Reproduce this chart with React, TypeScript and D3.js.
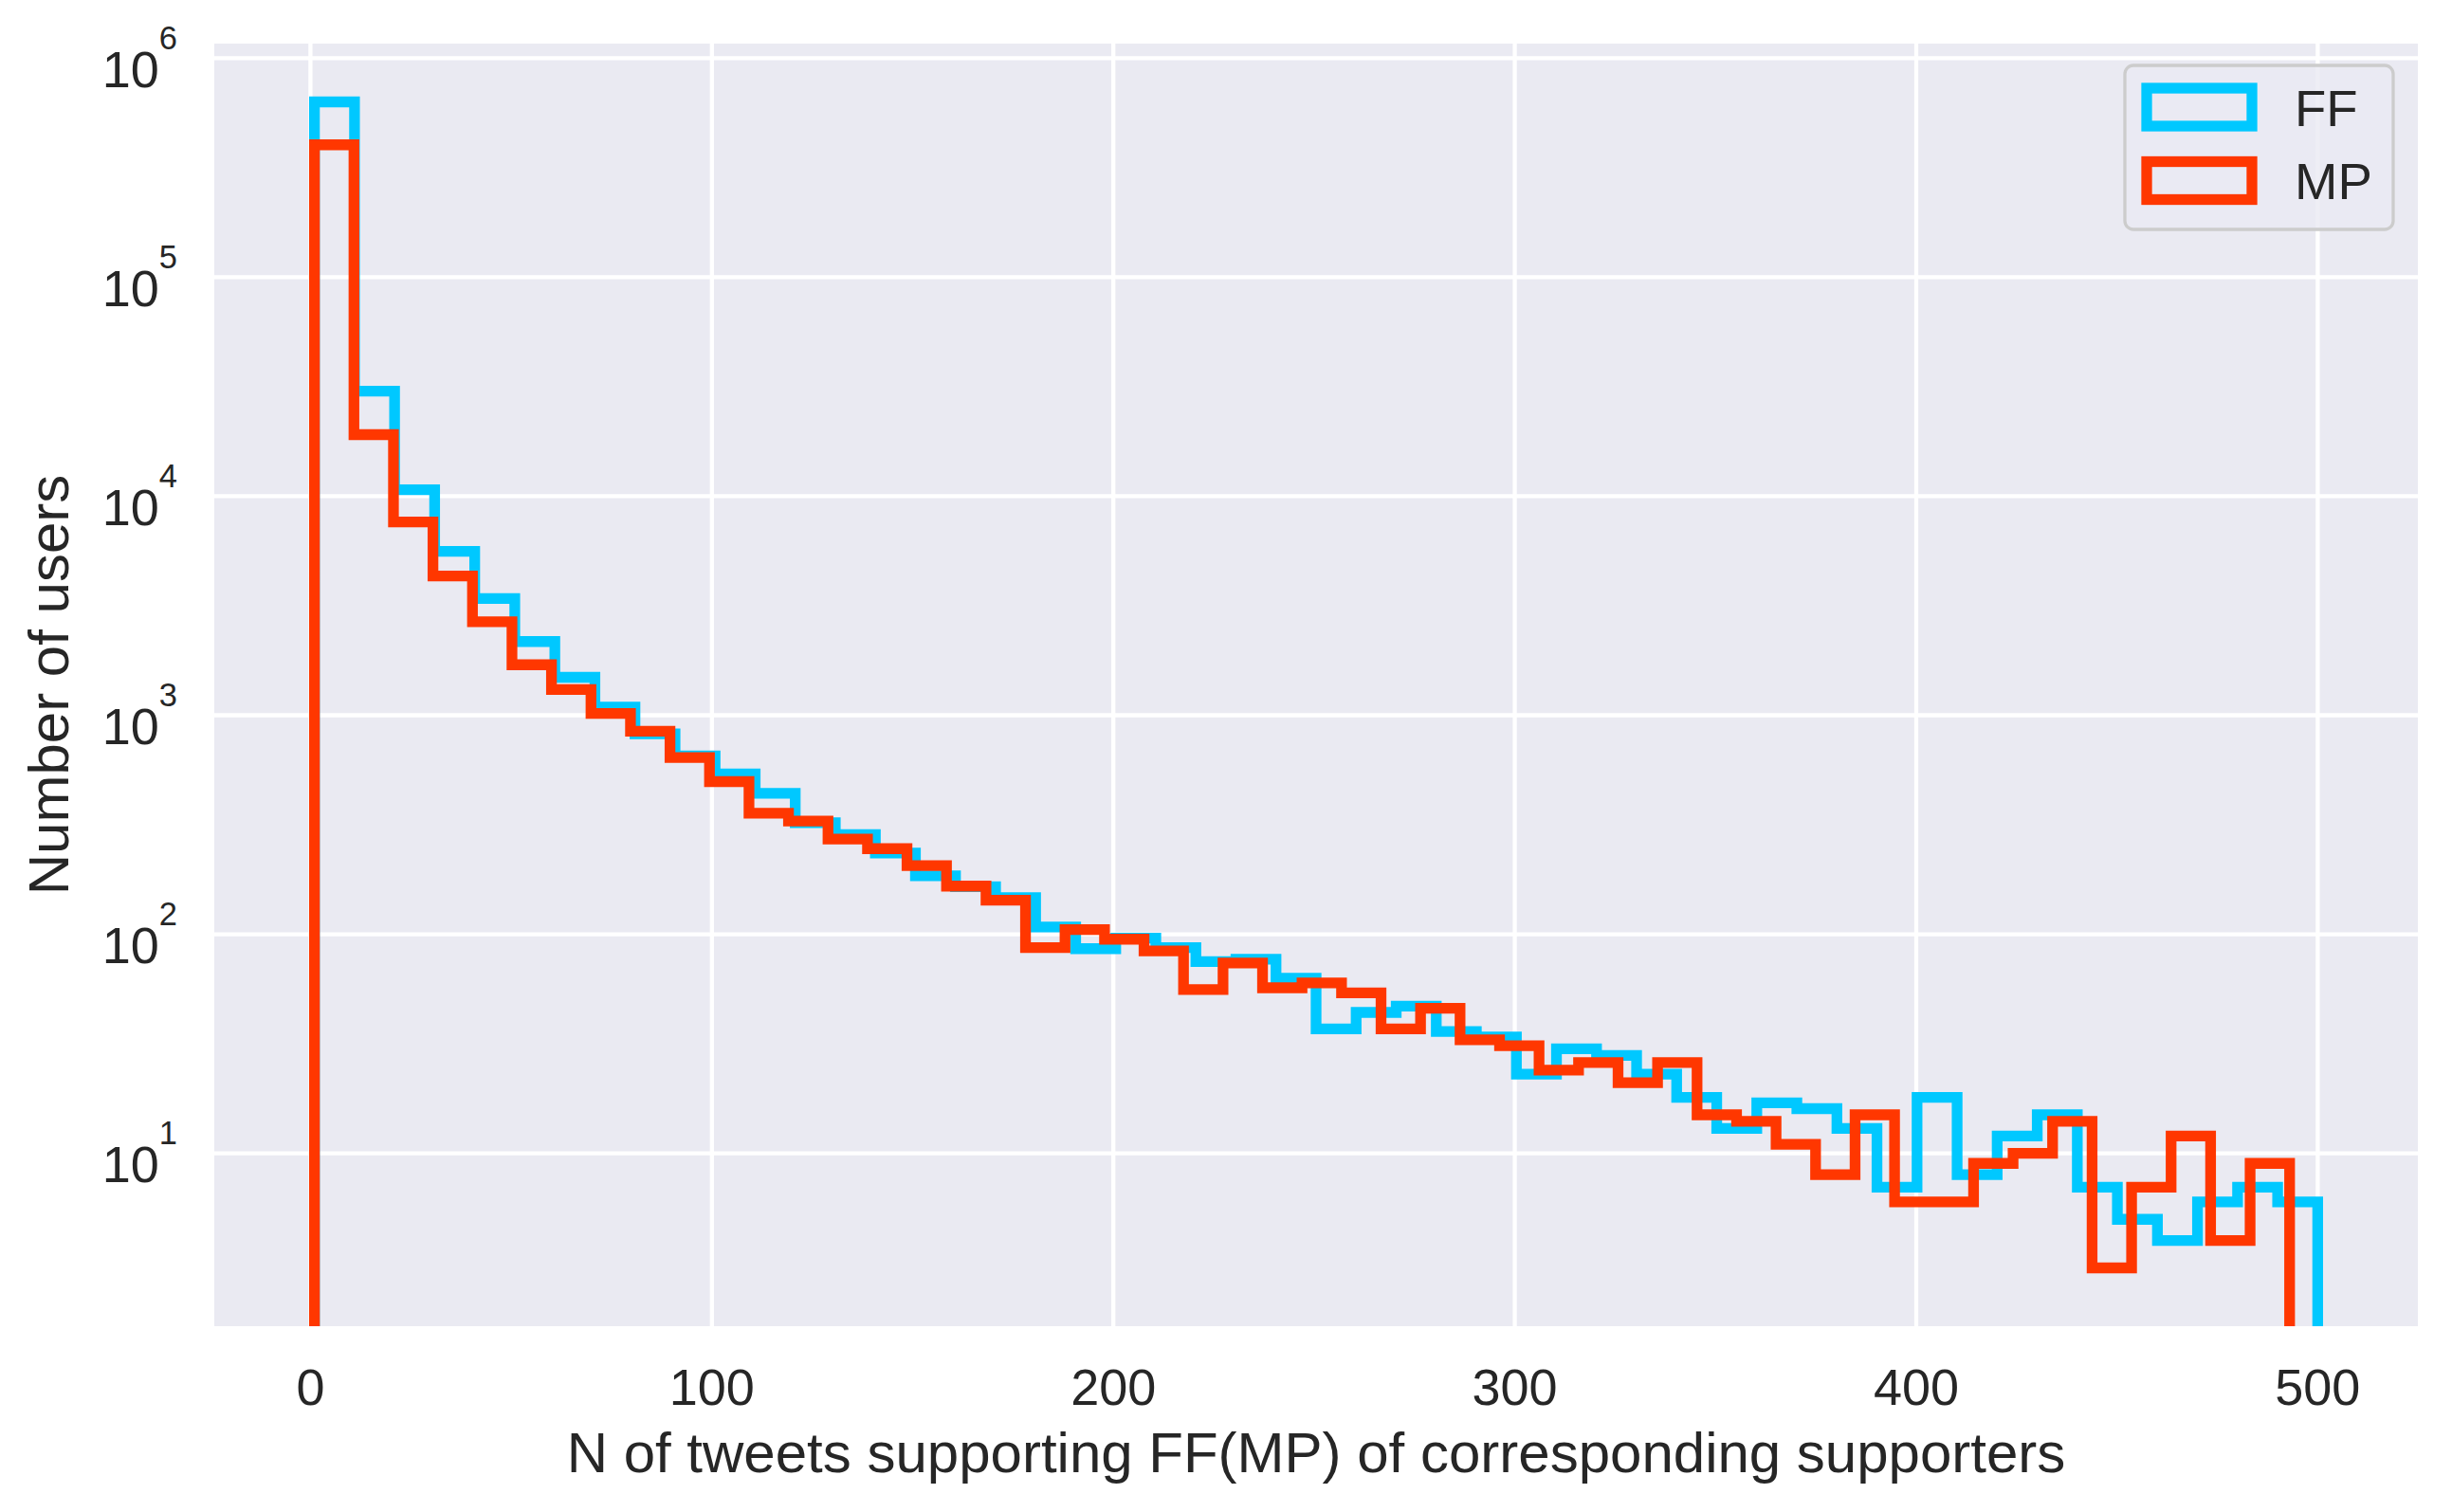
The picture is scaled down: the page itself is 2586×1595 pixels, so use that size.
import React from "react";
import * as d3 from "d3";

// ---- data ----
const ffCounts = [
  631000, 30200, 10700, 5600, 3410, 2170, 1490, 1090, 822, 652,
  540, 440, 323, 285, 235, 185, 165, 147, 108, 86,
  96, 87, 75, 77, 63, 37, 44, 47, 36, 34,
  23, 30, 28, 23, 18, 13, 17, 16, 13, 7,
  18, 8, 12, 15, 7, 5, 4, 6, 7, 6,
];
const mpCounts = [
  402000, 19100, 7620, 4320, 2670, 1700, 1310, 1020, 845, 641,
  498, 357, 329, 272, 246, 206, 166, 143, 87, 105,
  95, 84, 56, 74, 57, 60, 54, 37, 46, 33,
  31, 24, 26, 21, 26, 15, 14, 11, 8, 15,
  6, 6, 9, 10, 14, 3, 7, 12, 4, 9,
];
const ffRange = [1, 500];
const mpRange = [1, 493];
const seriesNames = ["FF", "MP"];
const seriesColors = ["#00c8ff", "#ff3700"];
const xTicks = [0, 100, 200, 300, 400, 500];
const yTickExps = [1, 2, 3, 4, 5, 6];
const xLabel = "N of tweets supporting FF(MP) of corresponding supporters";
const yLabel = "Number of users";

const W = 2586;
const H = 1595;
const plot = { left: 226, right: 2550, top: 46, bottom: 1399 };
const FONT = "'Liberation Sans', Arial, Helvetica, sans-serif";
const TEXT = "#262626";
const LW = 11.3;

function edges(range: number[], n: number) {
  return d3.range(n + 1).map((i) => range[0] + (i * (range[1] - range[0])) / n);
}

export default function App() {
  const dataMin = Math.min(ffRange[0], mpRange[0]);
  const dataMax = Math.max(ffRange[1], mpRange[1]);
  const span = dataMax - dataMin;
  const x = d3
    .scaleLinear()
    .domain([dataMin - 0.05 * span, dataMax + 0.05 * span])
    .range([plot.left, plot.right]);

  const all = [...ffCounts, ...mpCounts];
  const lmin = Math.log10(d3.min(all) as number);
  const lmax = Math.log10(d3.max(all) as number);
  const lspan = lmax - lmin;
  const y = d3
    .scaleLog()
    .domain([Math.pow(10, lmin - 0.05 * lspan), Math.pow(10, lmax + 0.05 * lspan)])
    .range([plot.bottom, plot.top]);

  const stepPath = (counts: number[], range: number[]) => {
    const e = edges(range, counts.length);
    const pts: [number, number][] = [];
    const low = 0.1;
    pts.push([x(e[0]), y(low)]);
    counts.forEach((c, i) => {
      pts.push([x(e[i]), y(c)]);
      pts.push([x(e[i + 1]), y(c)]);
    });
    pts.push([x(e[e.length - 1]), y(low)]);
    return d3.line()(pts) as string;
  };

  const series = [
    { name: seriesNames[0], color: seriesColors[0], d: stepPath(ffCounts, ffRange) },
    { name: seriesNames[1], color: seriesColors[1], d: stepPath(mpCounts, mpRange) },
  ];

  const tickFs = 54;
  const supFs = 34.5;
  const labelFs = 60;
  const legendFs = 54.5;

  const legend = { x: 2241, y: 69, w: 283, h: 173 };

  return (
    <svg
      width={W}
      height={H}
      viewBox={`0 0 ${W} ${H}`}
      style={{ position: "absolute", left: 0, top: 0, display: "block", background: "#fff" }}
      fontFamily={FONT}
    >
      <defs>
        <clipPath id="plotclip">
          <rect x={plot.left} y={plot.top} width={plot.right - plot.left} height={plot.bottom - plot.top} />
        </clipPath>
      </defs>
      <rect x={0} y={0} width={W} height={H} fill="#ffffff" />
      <rect
        x={plot.left}
        y={plot.top}
        width={plot.right - plot.left}
        height={plot.bottom - plot.top}
        fill="#eaeaf2"
      />
      {/* grid */}
      <g stroke="#ffffff" strokeWidth={4.3}>
        {xTicks.map((t) => (
          <line key={"gx" + t} x1={x(t)} x2={x(t)} y1={plot.top} y2={plot.bottom} />
        ))}
        {yTickExps.map((p) => (
          <line key={"gy" + p} x1={plot.left} x2={plot.right} y1={y(Math.pow(10, p))} y2={y(Math.pow(10, p))} />
        ))}
      </g>
      {/* histograms */}
      <g clipPath="url(#plotclip)">
        {series.map((s) => (
          <path
            key={s.name}
            d={s.d}
            fill="none"
            stroke={s.color}
            strokeWidth={LW}
            strokeLinejoin="miter"
            strokeLinecap="butt"
          />
        ))}
      </g>
      {/* x tick labels */}
      <g fill={TEXT} fontSize={tickFs} textAnchor="middle">
        {xTicks.map((t) => (
          <text key={"tx" + t} x={x(t)} y={1482}>
            {t}
          </text>
        ))}
      </g>
      {/* y tick labels */}
      <g fill={TEXT} fontSize={tickFs}>
        {yTickExps.map((p) => (
          <text key={"ty" + p} x={187} y={y(Math.pow(10, p)) + 30.5} textAnchor="end">
            <tspan>10</tspan>
            <tspan fontSize={supFs} dy={-40.2}>
              {p}
            </tspan>
          </text>
        ))}
      </g>
      {/* axis labels */}
      <text
        x={(plot.left + plot.right) / 2}
        y={1553}
        textAnchor="middle"
        fontSize={labelFs}
        fill={TEXT}
      >
        {xLabel}
      </text>
      <text
        transform={`translate(72, ${(plot.top + plot.bottom) / 2}) rotate(-90)`}
        textAnchor="middle"
        fontSize={labelFs}
        fill={TEXT}
      >
        {yLabel}
      </text>
      {/* legend */}
      <g>
        <rect
          x={legend.x}
          y={legend.y}
          width={legend.w}
          height={legend.h}
          rx={9}
          ry={9}
          fill="#eaeaf2"
          fillOpacity={0.8}
          stroke="#cccccc"
          strokeWidth={3.3}
        />
        {series.map((s, i) => (
          <g key={"lg" + s.name}>
            <rect
              x={2264}
              y={93 + i * 77.5}
              width={111}
              height={40}
              fill="none"
              stroke={s.color}
              strokeWidth={LW}
            />
            <text x={2420} y={133 + i * 77} fontSize={legendFs} fill={TEXT}>
              {s.name}
            </text>
          </g>
        ))}
      </g>
    </svg>
  );
}
